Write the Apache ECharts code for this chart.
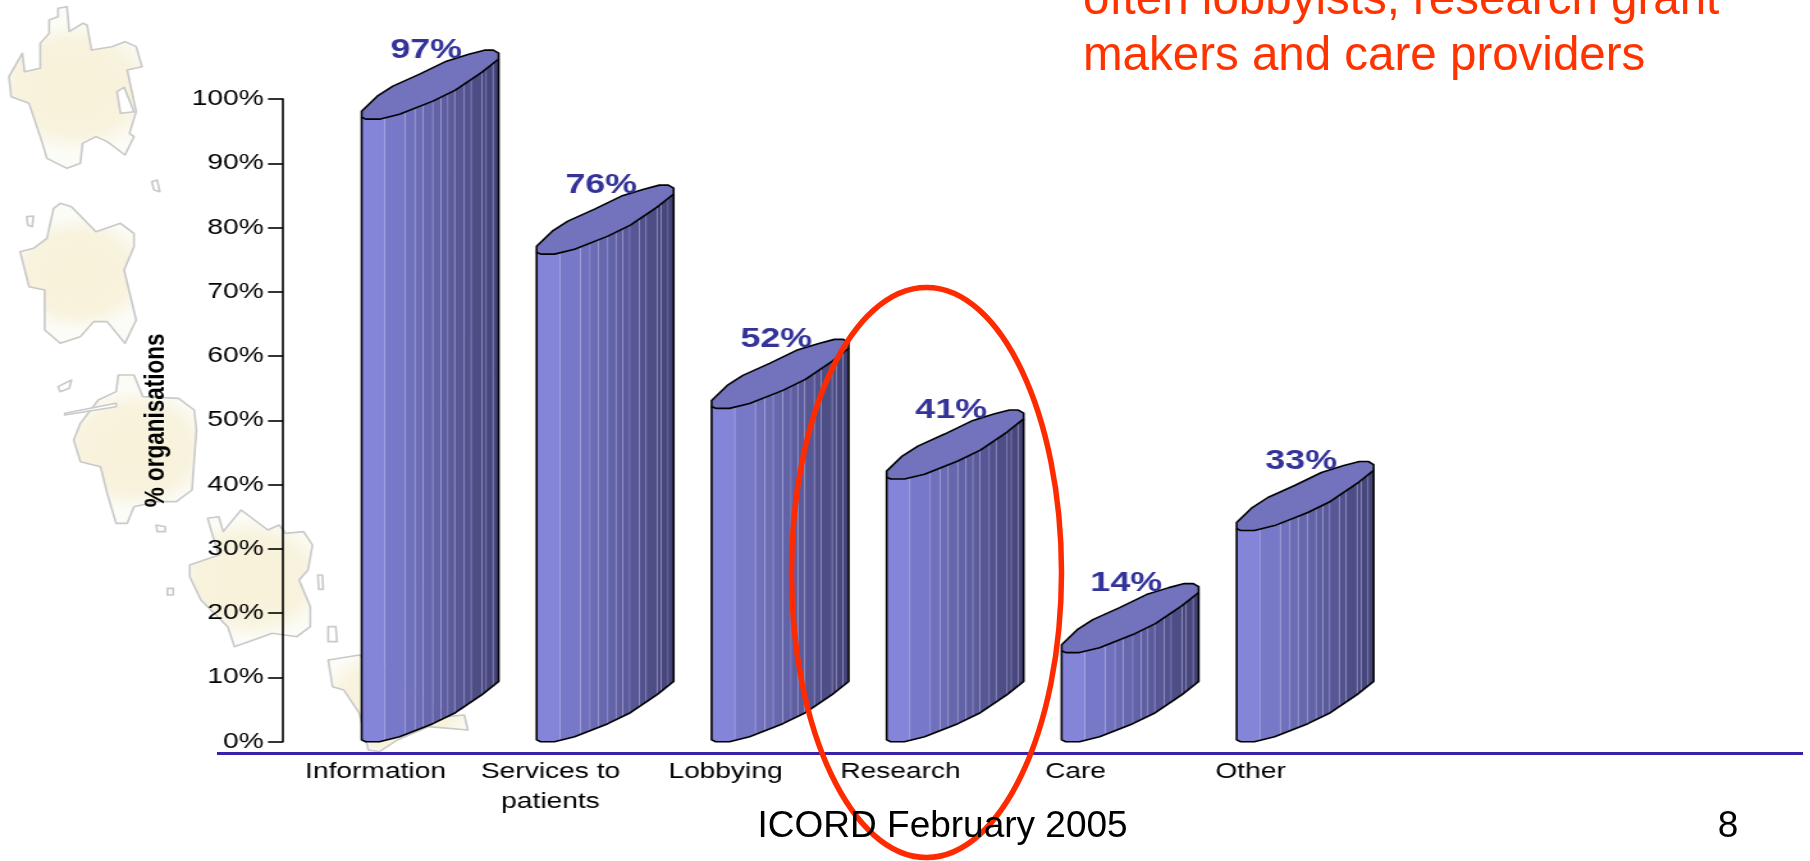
<!DOCTYPE html>
<html><head><meta charset="utf-8">
<style>
html,body{margin:0;padding:0;background:#fff;overflow:hidden;width:1810px;height:861px}
#chart{position:absolute;left:0;top:0;width:1414.0625px;height:861px;transform:scaleX(1.28);transform-origin:0 0}
#over{position:absolute;left:0;top:0;width:1810px;height:861px;pointer-events:none}
</style>
<script src="https://cdn.jsdelivr.net/npm/echarts@6/dist/echarts.min.js"></script>
</head><body>
<div id="chart"></div><div id="over"></div>
<script>
// ---- data ----
const categories = ['Information','Services to\npatients','Lobbying','Research','Care','Other'];
const values = [97,76,52,41,14,33];
const yMin = 0, yMax = 100, yStep = 10;
const yName = '% organisations';
const calloutLines = ['often lobbyists, research grant','makers and care providers'];
const footer = 'ICORD February 2005';
const pageNumber = '8';

// ---- styling / geometry of the pseudo 3D column ----
const S = 1.28;                 // the embedded chart picture is stretched horizontally
const RISE = 9.5;               // depth of the column top, in axis units
const LIFT = 1.1;               // the top-left corner sits a little above the value
const BAR_W = 0.783, BAR_X = -0.0794;   // in fractions of a category band
const frontCurve = [[0,.03],[.03,0],[.13,0],[.277,.08],[.52,.295],[.684,.475],[.879,.77],[1,.985]];
const backCurve = [[0,0],[.114,.246],[.228,.41],[.423,.607],[.619,.82],[.782,.934],[.896,1],[.961,1],[1,.95]];
const stripEdges = [0,.17,.32,.39,.45,.52,.58,.63,.68,.75,.80,.88,.91,.96,1];
function frontAt(f){
  for(let i=1;i<frontCurve.length;i++){
    const a=frontCurve[i-1],b=frontCurve[i];
    if(f<=b[0]) return a[1]+(b[1]-a[1])*(f-a[0])/(b[0]-a[0]);
  }
  return frontCurve[frontCurve.length-1][1];
}
function mix(t){
  const c0=[138,138,226],c1=[66,66,118];
  return 'rgb('+c0.map((c,i)=>Math.round(c+(c1[i]-c)*t)).join(',')+')';
}
function renderColumn(params,api){
  const idx=api.value(0), v=api.value(1);
  const size=api.size([1,1]), band=size[0], unit=size[1];
  const c=api.coord([idx,v+LIFT]), base=api.coord([idx,0]);
  const x0=c[0]+BAR_X*band, W=BAR_W*band, yTop=c[1], yBase=base[1], R=RISE*unit, dip=0.13*R;
  const X=f=>x0+f*W;
  const children=[];
  const bot=f=>yBase-frontAt(f)*R, top=f=>yTop+dip-frontAt(f)*R;
  for(let i=0;i<stripEdges.length-1;i++){
    const a=stripEdges[i],b=stripEdges[i+1],pts=[];
    const fs=[a];frontCurve.forEach(p=>{if(p[0]>a&&p[0]<b)fs.push(p[0]);});fs.push(b);
    fs.forEach(f=>pts.push([X(f),top(f)]));
    fs.slice().reverse().forEach(f=>pts.push([X(f),bot(f)]));
    children.push({type:'polygon',shape:{points:pts},style:{fill:mix((a+b)/2),stroke:'rgba(190,190,240,.45)',lineWidth:.5}});
  }
  const backPts=backCurve.map(p=>[X(p[0]),yTop-p[1]*R]);
  const frontTop=frontCurve.slice().reverse().map(p=>[X(p[0]),top(p[0])]);
  children.push({type:'polygon',shape:{points:backPts.concat(frontTop)},style:{fill:'#7373BD',stroke:'#000',lineWidth:1.6,lineJoin:'round'}});
  const outline=[[X(0),top(0)]].concat(frontCurve.map(p=>[X(p[0]),bot(p[0])]),[[X(1),top(1)]]);
  children.push({type:'polyline',shape:{points:outline},style:{fill:'none',stroke:'#000',lineWidth:1.6,lineJoin:'round'}});
  children.push({type:'text',x:X(0.4715),y:yTop-1.0*R,style:{text:v+'%',fontFamily:'"Liberation Sans",Arial,sans-serif',fontWeight:'bold',fontSize:28,fill:'#333399',align:'center',verticalAlign:'middle'}});
  return {type:'group',children};
}

// ---- decorative map islands behind the chart (full-size page px) ----
const z1=p=>[p[0]/2.24,p[1]/3], z2=p=>[p[0]/2.24,430+p[1]/3];
const islands=[
 [[130,25],[150,20],[155,95],[185,70],[195,75],[205,150],[250,140],[280,125],[305,140],[318,200],[285,210],[305,335],[290,400],[300,410],[280,465],[240,425],[215,410],[185,430],[180,490],[150,505],[105,475],[95,430],[65,310],[25,290],[20,230],[50,160],[55,215],[90,205],[90,130],[110,100],[110,60],[130,50]].map(z1),
 [[135,610],[160,620],[215,695],[270,670],[300,700],[300,740],[278,810],[305,960],[280,1030],[240,965],[210,965],[180,1010],[135,1030],[100,990],[100,870],[65,860],[45,755],[75,745],[105,715],[120,625]].map(z1),
 [[265,1125],[300,1125],[320,1190],[400,1195],[435,1230],[440,1290],[430,1470],[395,1505],[350,1505],[300,1520],[285,1570],[260,1570],[240,1480],[225,1400],[180,1385],[165,1320],[180,1270],[220,1200],[260,1175]].map(z1),
 [[465,265],[490,260],[500,305],[515,280],[540,240],[600,300],[625,285],[640,310],[680,305],[700,345],[690,420],[670,450],[695,530],[695,590],[665,620],[610,610],[525,650],[510,590],[450,510],[425,440],[425,405],[490,375],[475,310]].map(z2),
 [[735,690],[805,675],[900,750],[1000,860],[1040,855],[1048,900],[960,890],[890,930],[850,965],[825,960],[805,850],[770,780],[745,770]].map(z2),
 [[262,275],[278,262],[300,335],[270,340]].map(z1),
 [[340,545],[352,540],[358,575],[345,570]].map(z1),
 [[60,650],[75,648],[72,680],[62,675]].map(z1),
 [[130,1160],[160,1140],[155,1165],[135,1175]].map(z1),
 [[145,1240],[260,1210],[260,1220],[145,1245]].map(z1),
 [[350,285],[370,290],[370,305],[352,305]].map(z2),
 [[375,475],[388,475],[388,495],[375,495]].map(z2),
 [[712,435],[722,435],[724,478],[714,478]].map(z2),
 [[735,590],[752,590],[755,635],[735,635]].map(z2)
];
const islandEls=islands.map((pts,i)=>({
  type:'polygon',z:-10,silent:true,
  shape:{points:pts.map(p=>[p[0]/S,p[1]])},
  style:{fill:i<5?{type:'radial',x:.5,y:.5,r:.62,colorStops:[{offset:0,color:'#F8F2D8'},{offset:.7,color:'#F8F3DE'},{offset:1,color:'#FCFCF6'}]}:'#fff',stroke:'#C9C9C9',lineWidth:1.6,lineJoin:'round'}
}));

// ---- the (horizontally stretched) chart ----
const chart=echarts.init(document.getElementById('chart'),null,{renderer:'canvas'});
const font='"Liberation Sans",Arial,sans-serif';
chart.setOption({
  animation:false,
  backgroundColor:'transparent',
  graphic:{elements:islandEls},
  grid:{left:288/S,top:99,width:1050/S,height:642.7,containLabel:false},
  xAxis:{type:'category',data:categories,boundaryGap:true,
    axisLine:{show:false},axisTick:{show:false},
    axisLabel:{color:'#000',fontFamily:font,fontSize:22,margin:15,lineHeight:30,interval:0}},
  yAxis:{type:'value',min:yMin,max:yMax,interval:yStep,offset:5/S,
    name:yName,nameLocation:'middle',nameGap:88,nameRotate:90,
    nameTextStyle:{color:'#000',fontFamily:font,fontWeight:'bold',fontSize:22.5},
    splitLine:{show:false},
    axisLine:{show:true,lineStyle:{color:'#000',width:1.6}},
    axisTick:{show:true,length:15/S,lineStyle:{color:'#000',width:1.6}},
    axisLabel:{color:'#000',fontFamily:font,fontSize:22,margin:15,formatter:'{value}%'}},
  series:[{type:'custom',clip:false,z:5,
    encode:{x:0,y:1},
    data:values.map((v,i)=>[i,v]),
    renderItem:renderColumn}]
});

// ---- slide furniture on top ----
const over=echarts.init(document.getElementById('over'),null,{renderer:'canvas'});
const slideText=(text,x,y,size,fill,align)=>({type:'text',x,y,silent:true,style:{text,x:0,y:0,fontFamily:font,fontSize:size,fill,align:align||'left',verticalAlign:'top'}});
over.setOption({
  animation:false,backgroundColor:'transparent',
  graphic:{elements:[
    {type:'line',silent:true,shape:{x1:217,y1:753.5,x2:1803,y2:753.5},style:{stroke:'#3A22A8',lineWidth:3}},
    {type:'ellipse',silent:true,shape:{cx:926.5,cy:572.5,rx:135,ry:285},style:{fill:'none',stroke:'#FF2B00',lineWidth:5.5}},
    slideText(calloutLines[0],1083,-23,47.5,'#FF3300'),
    slideText(calloutLines[1],1083,33,47.5,'#FF3300'),
    slideText(footer,942.6,808,37,'#000','center'),
    slideText(pageNumber,1728,808,37,'#000','center')
  ]}
});
</script>
</body></html>
